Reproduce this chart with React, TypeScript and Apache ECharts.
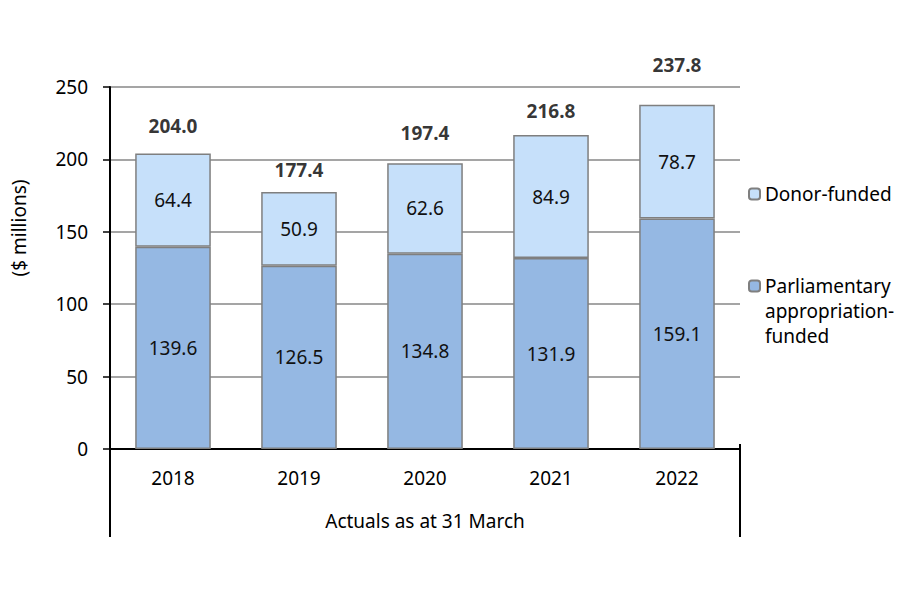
import React, { useEffect, useRef } from "react";
import * as echarts from "echarts";

const years = ["2018", "2019", "2020", "2021", "2022"];
const parliamentary = [139.6, 126.5, 134.8, 131.9, 159.1];
const donor = [64.4, 50.9, 62.6, 84.9, 78.7];
const yTicks = { min: 0, max: 250, interval: 50 };
const seriesNames = ["Parliamentary appropriation-funded", "Donor-funded"];
const axisTitle = "Actuals as at 31 March";
const unitTitle = "($ millions)";

const FONT = "Noto Sans";

export default function App() {
  const ref = useRef<HTMLDivElement>(null);

  useEffect(() => {
    if (!ref.current) return;
    const chart = echarts.init(ref.current, null, { renderer: "svg" });
    const totals = parliamentary.map((v, i) => Math.round((v + donor[i]) * 10) / 10);
    // vertical lift of each total label above its bar (layout only)
    const lift = [17, 11, 19, 13, 29];

    const barBorder = { borderColor: "#7f7f7f", borderWidth: 1.5 };
    const innerLabel = {
      show: true,
      position: "inside",
      fontFamily: FONT,
      fontSize: 19,
      color: "#111",
      formatter: (p: any) => Number(p.value).toFixed(1),
    };

    chart.setOption({
      animation: false,
      textStyle: { fontFamily: FONT },
      grid: { left: 110, right: 181, top: 87, bottom: 141, containLabel: false },
      legend: [
        {
          left: 748,
          top: 181.5,
          orient: "vertical",
          padding: 0,
          itemWidth: 11,
          itemHeight: 11,
          itemGap: 7,
          data: [seriesNames[1]],
          textStyle: { fontFamily: FONT, fontSize: 19, color: "#000", lineHeight: 25 },
        },
        {
          left: 748,
          top: 223.5,
          orient: "vertical",
          padding: 0,
          itemWidth: 11,
          itemHeight: 11,
          data: [seriesNames[0]],
          formatter: () => "\n\nParliamentary\nappropriation-\nfunded",
          textStyle: {
            fontFamily: FONT,
            fontSize: 19,
            color: "#000",
            lineHeight: 25,
          },
        },
      ],
      xAxis: {
        type: "category",
        data: years,
        boundaryGap: true,
        axisLine: { show: true, lineStyle: { color: "#000", width: 2 } },
        axisTick: {
          show: true,
          inside: true,
          alignWithLabel: true,
          length: 5,
          lineStyle: { color: "#000", width: 1.5 },
        },
        axisLabel: { margin: 19, fontFamily: FONT, fontSize: 19, color: "#000" },
        name: axisTitle,
        nameLocation: "middle",
        nameGap: 62,
        nameTextStyle: { fontFamily: FONT, fontSize: 19, color: "#000" },
      },
      yAxis: {
        type: "value",
        min: yTicks.min,
        max: yTicks.max,
        interval: yTicks.interval,
        axisLine: { show: true, lineStyle: { color: "#000", width: 2 } },
        axisTick: { show: true, length: 7, lineStyle: { color: "#000", width: 1.5 } },
        axisLabel: { margin: 22, fontFamily: FONT, fontSize: 19, color: "#000" },
        splitLine: { show: true, lineStyle: { color: "#878787", width: 1.5 } },
      },
      graphic: [
        {
          type: "line",
          shape: { x1: 110, y1: 449, x2: 110, y2: 537 },
          style: { stroke: "#000", lineWidth: 2 },
        },
        {
          type: "line",
          shape: { x1: 740, y1: 444, x2: 740, y2: 537 },
          style: { stroke: "#000", lineWidth: 2 },
        },
        {
          type: "text",
          x: 19,
          y: 228,
          rotation: Math.PI / 2,
          style: {
            text: unitTitle,
            fontFamily: FONT,
            fontSize: 19,
            fill: "#000",
            align: "center",
            verticalAlign: "middle",
          },
        },
      ],
      series: [
        {
          name: seriesNames[0],
          type: "bar",
          stack: "total",
          barWidth: "60%",
          data: parliamentary,
          itemStyle: { color: "#95b8e3", ...barBorder },
          label: innerLabel,
        },
        {
          name: seriesNames[1],
          type: "bar",
          stack: "total",
          barWidth: "60%",
          data: donor,
          itemStyle: { color: "#c6e0fa", ...barBorder },
          label: innerLabel,
        },
        {
          name: "Total",
          type: "scatter",
          symbolSize: 0,
          silent: true,
          data: totals.map((v, i) => ({
            value: v,
            label: { distance: lift[i] },
          })),
          label: {
            show: true,
            position: "top",
            fontFamily: FONT,
            fontSize: 19,
            fontWeight: "bold",
            color: "#000",
            lineHeight: 22,
            formatter: (p: any) => Number(p.value).toFixed(1),
          },
        },
      ],
    });

    return () => chart.dispose();
  }, []);

  return (
    <div
      ref={ref}
      style={{ position: "absolute", left: 0, top: 0, width: 921, height: 590 }}
    />
  );
}
